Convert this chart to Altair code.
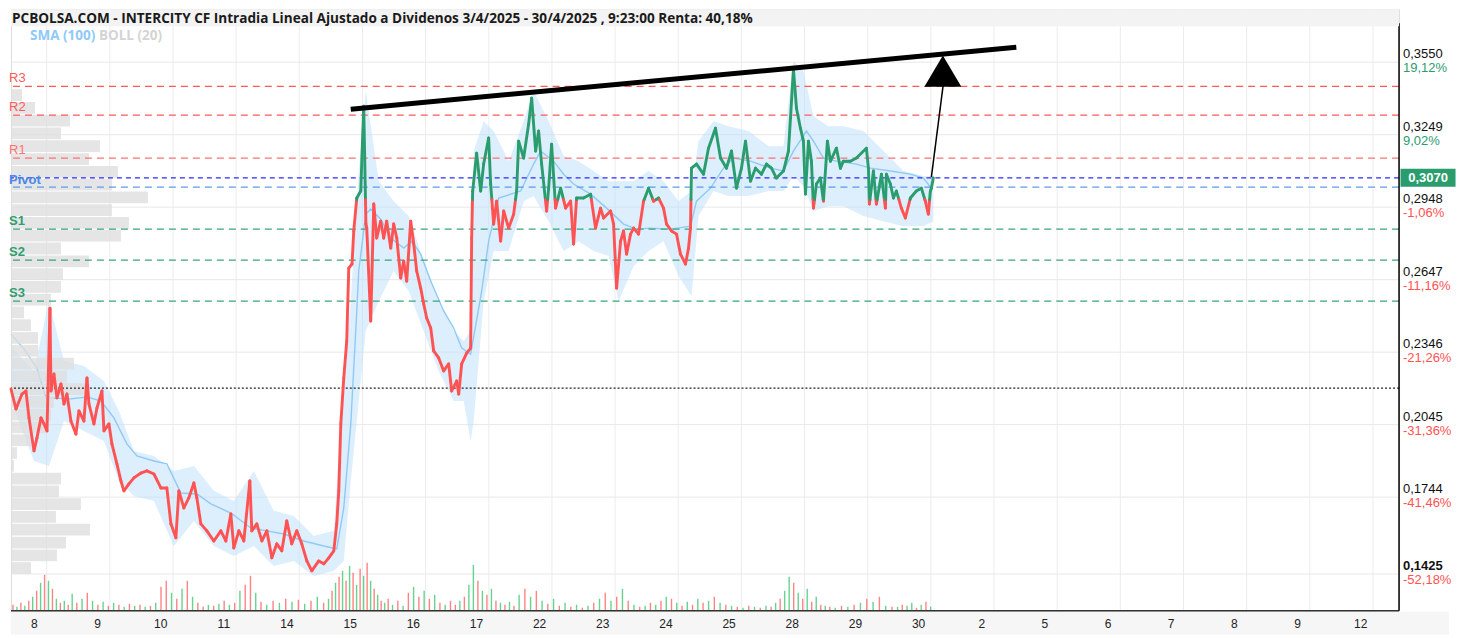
import altair as alt
import pandas as pd

TITLE = ("PCBOLSA.COM - INTERCITY CF Intradia Lineal Ajustado a Dividenos "
         "3/4/2025 - 30/4/2025 , 9:23:00 Renta: 40,18%")
day_labels = ["8", "9", "10", "11", "14", "15", "16", "17", "22", "23", "24",
              "25", "28", "29", "30", "2", "5", "6", "7", "8", "9", "12"]

# intraday price (x in trading-day units from the first session)
price_t = [
    0.000, 0.079, 0.174, 0.237, 0.285, 0.364, 0.411, 0.475, 0.522, 0.570,
    0.617, 0.633, 0.680, 0.728, 0.791, 0.839, 0.886, 0.949, 1.028, 1.076,
    1.155, 1.203, 1.234, 1.313, 1.361, 1.440, 1.472, 1.551, 1.598, 1.677,
    1.741, 1.788, 1.867, 1.946, 2.057, 2.152, 2.263, 2.373, 2.468, 2.532,
    2.611, 2.658, 2.737, 2.816, 2.896, 2.943, 3.006, 3.101, 3.212, 3.323,
    3.402, 3.481, 3.528, 3.608, 3.687, 3.782, 3.813, 3.892, 3.972, 4.051,
    4.130, 4.209, 4.288, 4.367, 4.446, 4.525, 4.604, 4.684, 4.763, 4.873,
    4.953, 5.032, 5.111, 5.158, 5.190, 5.222, 5.269, 5.316, 5.348, 5.400,
    5.427, 5.475, 5.538, 5.585, 5.620, 5.633, 5.696, 5.744, 5.791, 5.854,
    5.902, 5.949, 6.013, 6.060, 6.108, 6.171, 6.218, 6.266, 6.329, 6.377,
    6.424, 6.487, 6.535, 6.582, 6.646, 6.693, 6.772, 6.851, 6.930, 6.978,
    7.057, 7.089, 7.136, 7.215, 7.278, 7.294, 7.310, 7.373, 7.437, 7.484,
    7.563, 7.595, 7.642, 7.690, 7.753, 7.801, 7.880, 7.959, 8.006, 8.038,
    8.117, 8.196, 8.244, 8.307, 8.354, 8.402, 8.481, 8.513, 8.560, 8.623,
    8.703, 8.782, 8.861, 8.908, 8.956, 9.066, 9.177, 9.256, 9.335, 9.383,
    9.494, 9.541, 9.589, 9.652, 9.699, 9.747, 9.810, 9.858, 9.937, 10.016,
    10.095, 10.174, 10.253, 10.332, 10.380, 10.459, 10.538, 10.601, 10.680, 10.728,
    10.759, 10.775, 10.854, 10.965, 11.044, 11.155, 11.234, 11.329, 11.408, 11.487,
    11.566, 11.630, 11.709, 11.788, 11.883, 11.962, 12.041, 12.120, 12.231, 12.310,
    12.342, 12.389, 12.437, 12.500, 12.547, 12.579, 12.627, 12.674, 12.706, 12.753,
    12.816, 12.864, 12.927, 12.975, 13.070, 13.133, 13.180, 13.291, 13.386, 13.544,
    13.576, 13.592, 13.655, 13.703, 13.782, 13.845, 13.861, 13.924, 13.972, 14.019,
    14.098, 14.161, 14.241, 14.335, 14.415, 14.478, 14.525, 14.557, 14.573, 14.604]
price_v = [
    0.2193, 0.2110, 0.2172, 0.2185, 0.2073, 0.1936, 0.1990, 0.2073, 0.2048, 0.2019,
    0.2529, 0.2185, 0.2255, 0.2156, 0.2214, 0.2131, 0.2172, 0.2060, 0.2006, 0.2102,
    0.2060, 0.2239, 0.2131, 0.2048, 0.2114, 0.2185, 0.2019, 0.2048, 0.1965, 0.1882,
    0.1811, 0.1770, 0.1799, 0.1824, 0.1844, 0.1853, 0.1840, 0.1782, 0.1782, 0.1633,
    0.1575, 0.1770, 0.1699, 0.1741, 0.1803, 0.1741, 0.1633, 0.1604, 0.1562, 0.1604,
    0.1562, 0.1674, 0.1533, 0.1604, 0.1562, 0.1811, 0.1604, 0.1633, 0.1562, 0.1604,
    0.1492, 0.1550, 0.1521, 0.1645, 0.1550, 0.1604, 0.1550, 0.1479, 0.1438, 0.1479,
    0.1467, 0.1492, 0.1521, 0.1633, 0.1770, 0.2048, 0.2239, 0.2392, 0.2695, 0.2712,
    0.2849, 0.2986, 0.3015, 0.3367, 0.2878, 0.2861, 0.2475, 0.2961, 0.2820, 0.2890,
    0.2820, 0.2890, 0.2778, 0.2878, 0.2820, 0.2654, 0.2724, 0.2641, 0.2890, 0.2795,
    0.2683, 0.2612, 0.2546, 0.2488, 0.2446, 0.2351, 0.2322, 0.2268, 0.2297, 0.2185,
    0.2226, 0.2172, 0.2297, 0.2342, 0.2363, 0.2820, 0.3015, 0.3172, 0.3015, 0.3127,
    0.3235, 0.3044, 0.2878, 0.2973, 0.2807, 0.2932, 0.2861, 0.2919, 0.3015, 0.3222,
    0.3152, 0.3293, 0.3401, 0.3181, 0.3264, 0.3127, 0.2932, 0.3027, 0.3210, 0.2944,
    0.3027, 0.2944, 0.2973, 0.2795, 0.2986, 0.2986, 0.3002, 0.2861, 0.2944, 0.2903,
    0.2932, 0.2878, 0.2612, 0.2807, 0.2849, 0.2753, 0.2836, 0.2861, 0.2836, 0.2973,
    0.3027, 0.2973, 0.2986, 0.2944, 0.2878, 0.2849, 0.2836, 0.2753, 0.2712, 0.2778,
    0.2861, 0.3110, 0.3127, 0.3085, 0.3193, 0.3276, 0.3152, 0.3110, 0.3181, 0.3027,
    0.3110, 0.3222, 0.3056, 0.3110, 0.3085, 0.3127, 0.3110, 0.3069, 0.3098, 0.3181,
    0.3318, 0.3521, 0.3359, 0.3276, 0.3222, 0.3002, 0.3222, 0.3139, 0.2944, 0.3044,
    0.3069, 0.2973, 0.3222, 0.3139, 0.3193, 0.3110, 0.3139, 0.3139, 0.3152, 0.3193,
    0.3110, 0.2961, 0.3098, 0.2961, 0.3085, 0.2944, 0.3085, 0.3044, 0.2986, 0.3015,
    0.2944, 0.2903, 0.2986, 0.3015, 0.3027, 0.2973, 0.2919, 0.3015, 0.3027, 0.3069]

# SMA (100)
sma_t = [0.000, 0.206, 0.411, 0.554, 0.949, 1.203, 1.424, 1.630, 1.835, 1.994,
         2.263, 2.468, 2.690, 2.943, 3.165, 3.481, 3.797, 4.051, 4.320, 4.636,
         4.953, 5.158, 5.269, 5.380, 5.475, 5.506, 5.617, 5.696, 5.854, 6.013,
         6.218, 6.345, 6.487, 6.646, 6.851, 7.009, 7.136, 7.278, 7.453, 7.563,
         7.722, 8.070, 8.275, 8.386, 8.592, 8.750, 8.908, 9.177, 9.430, 9.699,
         9.905, 10.127, 10.443, 10.759, 10.854, 11.076, 11.282, 11.440, 11.709, 12.025,
         12.231, 12.389, 12.595, 12.706, 12.864, 13.070, 13.386, 13.608, 13.924, 14.241,
         14.446, 14.573]
sma_v = [0.2421, 0.2359, 0.2280, 0.2156, 0.2152, 0.2160, 0.2143, 0.2073, 0.1965, 0.1915,
         0.1894, 0.1882, 0.1761, 0.1757, 0.1716, 0.1678, 0.1616, 0.1604, 0.1591, 0.1562,
         0.1541, 0.1529, 0.1699, 0.2048, 0.2517, 0.2683, 0.2919, 0.2940, 0.2898, 0.2820,
         0.2778, 0.2807, 0.2753, 0.2641, 0.2517, 0.2446, 0.2363, 0.2338, 0.2600, 0.2807,
         0.2986, 0.3015, 0.3127, 0.3181, 0.3139, 0.3085, 0.3044, 0.3002, 0.2944, 0.2878,
         0.2857, 0.2861, 0.2857, 0.2869, 0.2973, 0.3027, 0.3110, 0.3152, 0.3139, 0.3110,
         0.3098, 0.3181, 0.3264, 0.3222, 0.3152, 0.3139, 0.3127, 0.3110, 0.3098, 0.3085,
         0.3069, 0.3027]

# BOLL (20) band
boll_t = [0.000, 0.364, 0.601, 0.839, 1.155, 1.472, 1.709, 1.946, 2.263, 2.579,
          2.896, 3.212, 3.528, 3.845, 4.161, 4.478, 4.794, 5.111, 5.269, 5.380,
          5.506, 5.617, 5.823, 6.060, 6.297, 6.535, 6.772, 7.009, 7.168, 7.278,
          7.326, 7.484, 7.642, 7.880, 8.117, 8.275, 8.513, 8.750, 8.987, 9.225,
          9.462, 9.620, 9.858, 10.095, 10.332, 10.570, 10.775, 10.886, 11.123, 11.361,
          11.677, 11.994, 12.231, 12.389, 12.547, 12.706, 12.943, 13.180, 13.497, 13.813,
          14.130, 14.446, 14.604]
boll_up = [0.2371, 0.2268, 0.2558, 0.2309, 0.2288, 0.2226, 0.2102, 0.1936, 0.1915, 0.1853,
           0.1873, 0.1770, 0.1728, 0.1853, 0.1687, 0.1666, 0.1583, 0.1604, 0.2226, 0.2558,
           0.3098, 0.3430, 0.3056, 0.2973, 0.2911, 0.2724, 0.2558, 0.2434, 0.2392, 0.2434,
           0.3181, 0.3305, 0.3264, 0.3139, 0.3305, 0.3430, 0.3305, 0.3160, 0.3139, 0.3098,
           0.3056, 0.3056, 0.3056, 0.3098, 0.3056, 0.2973, 0.3015, 0.3222, 0.3305, 0.3284,
           0.3264, 0.3201, 0.3201, 0.3554, 0.3513, 0.3326, 0.3284, 0.3284, 0.3264, 0.3181,
           0.3098, 0.3077, 0.3077]
boll_low = [0.2143, 0.1894, 0.1873, 0.2060, 0.2019, 0.1977, 0.1811, 0.1749, 0.1728, 0.1541,
            0.1645, 0.1541, 0.1500, 0.1541, 0.1458, 0.1479, 0.1417, 0.1438, 0.1479, 0.1811,
            0.2143, 0.2434, 0.2558, 0.2683, 0.2600, 0.2434, 0.2268, 0.2143, 0.2143, 0.1977,
            0.2060, 0.2558, 0.2766, 0.2766, 0.2973, 0.2994, 0.2890, 0.2766, 0.2807, 0.2766,
            0.2745, 0.2558, 0.2703, 0.2766, 0.2807, 0.2662, 0.2579, 0.2911, 0.3015, 0.2994,
            0.2994, 0.3015, 0.3015, 0.3077, 0.3035, 0.2932, 0.2952, 0.2952, 0.2911, 0.2890,
            0.2869, 0.2869, 0.2890]

# volume per session (evenly spread trades), g = up, r = down
vol_days = [
    [6, 4, 8, 5, 10, 14, 20, 28, 36, 30, 22, 12, 8, 10, 6, 17],
    [8, 12, 18, 10, 6, 9, 5, 8, 6, 4, 7, 5],
    [6, 4, 5, 8, 24, 30, 18, 12, 22, 30, 14, 8],
    [4, 6, 5, 7, 10, 6, 8, 20, 26, 35, 18, 9],
    [6, 10, 8, 12, 9, 11, 7, 10, 14, 8],
    [12, 20, 28, 34, 40, 30, 45, 38, 26, 42, 35, 48, 30, 22, 16, 10, 8, 12],
    [6, 10, 5, 18, 24, 14, 20, 12, 16, 8, 6, 10],
    [6, 10, 14, 26, 46, 30, 20, 16, 22, 10, 8, 6, 9, 5],
    [16, 22, 14, 20, 10, 7, 12, 5, 8, 4, 6],
    [3, 5, 8, 12, 18, 10, 14, 22, 10, 6, 4],
    [5, 8, 6, 10, 14, 12, 8, 5, 9, 6, 12, 8],
    [10, 14, 8, 6, 5, 4, 3, 5, 4, 3, 5],
    [4, 8, 12, 20, 34, 28, 18, 12, 22, 9, 14, 6, 5, 4],
    [3, 5, 4, 6, 8, 12, 9, 14, 5, 4],
    [4, 6, 5, 8, 3, 6, 9, 4],
]
vol_dirs = ["rgrgrgrgrgrgrgrg", "rgrgrgrgrgrg", "rgrgrrgrgrgr", "rgrgrgrgrrgr",
            "grgrgrgrgr", "grgrgrgrgrgrgrgrgr", "grgrgrgrgrgr", "rgrggrgrgrgrgr",
            "grgrgrgrgrg", "rgrgrgrgrgr", "grgrgrgrgrgr", "grgrgrgrgrg",
            "rgrggrgrgrgrgr", "grgrgrgrgr", "grggrgrg"]
vol_span = [1.0] * 14 + [0.6]

# volume profile (bottom bin first)
profile_vol = [20, 46, 55, 79, 45, 70, 48, 50, 3, 6, 20, 36, 40, 43, 75, 56, 63, 27, 27,
               20, 13, 40, 50, 52, 78, 50, 110, 118, 101, 137, 101, 107, 78, 89, 50, 59,
               24, 11]
PROF_BASE, PROF_STEP = 0.1425, 0.005308

y_ticks = [0.1425, 0.1744, 0.2045, 0.2346, 0.2647, 0.2948, 0.3249, 0.3550]
y_pct = ["-52,18%", "-41,46%", "-31,36%", "-21,26%", "-11,16%", "-1,06%", "9,02%", "19,12%"]

r_names, r_vals = ["R3", "R2", "R1"], [0.3450, 0.3330, 0.3152]
s_names, s_vals = ["S1", "S2", "S3"], [0.2857, 0.2728, 0.2558]
pivot_val = 0.3031
last_price = 0.3070
ref_price = 0.2980
dotted_level = 0.2197

trend_t, trend_p = [5.380, 15.918], [0.3355, 0.3612]
arrow_t, arrow_p = [14.573, 14.778], [0.3073, 0.3492]
head_t, head_p = 14.755, 0.3513

# ------------------------------------------------------------------
W, H = 1389, 602
X_MAX = 21.978
Y_MIN, Y_MAX = 0.1272, 0.3770
GREEN, RED = "#2a9d6e", "#ff5252"
VGREEN, VRED = "#33c46c", "#ff5a5a"
VOL_K = 0.000415          # price units per volume unit (bottom panel)
PROF_K = 1 / 63.2         # day units per profile volume unit
FONT = "Liberation Sans"

xs = alt.Scale(domain=[0, X_MAX], nice=False, zero=False)
ys = alt.Scale(domain=[Y_MIN, Y_MAX], nice=False, zero=False)


def xq(f):
    return alt.X(f, type="quantitative", scale=xs, axis=None)


def yq(f):
    return alt.Y(f, type="quantitative", scale=ys, axis=None)


one = pd.DataFrame({"a": [0]})

# price segments coloured by reference level
rows = []
for i in range(len(price_t) - 1):
    t0, p0, t1, p1 = price_t[i], price_v[i], price_t[i + 1], price_v[i + 1]
    a0, a1 = p0 >= ref_price, p1 >= ref_price
    if a0 == a1:
        rows.append((t0, p0, t1, p1, GREEN if a0 else RED))
    else:
        f = (ref_price - p0) / (p1 - p0)
        tc = t0 + f * (t1 - t0)
        rows.append((t0, p0, tc, ref_price, GREEN if a0 else RED))
        rows.append((tc, ref_price, t1, p1, GREEN if a1 else RED))
seg = pd.DataFrame(rows, columns=["t0", "p0", "t1", "p1", "c"])

vrows = []
for d, (hs, dirs) in enumerate(zip(vol_days, vol_dirs)):
    n = len(hs)
    for j, (h, c) in enumerate(zip(hs, dirs)):
        vrows.append((d + (j + 0.5) / n * vol_span[d], h, VGREEN if c == "g" else VRED))
vol = pd.DataFrame(vrows, columns=["t", "v", "c"])
vol["y0"] = Y_MIN
vol["y1"] = Y_MIN + vol["v"] * VOL_K

prof = pd.DataFrame({"vol": profile_vol})
prof["lo"] = PROF_BASE + prof.index * PROF_STEP
prof["hi"] = prof["lo"] + PROF_STEP * 0.92
prof["x0"] = 0.0
prof["x1"] = prof["vol"] * PROF_K

band = pd.DataFrame({"t": boll_t, "up": boll_up, "low": boll_low})
sma = pd.DataFrame({"t": sma_t, "v": sma_v})

layers = []

# bottom grey strip behind the date labels
layers.append(alt.Chart(one).mark_rect(color="#f6f6f6").encode(
    x=alt.value(0), x2=alt.value(W + 50), y=alt.value(H + 1), y2=alt.value(H + 24)))

# grids
vgrid = pd.DataFrame({"t": [i + 0.565 for i in range(len(day_labels))]})
layers.append(alt.Chart(vgrid).mark_rule(color="#ececec", strokeWidth=1).encode(x=xq("t")))
hgrid = pd.DataFrame({"p": y_ticks})
layers.append(alt.Chart(hgrid).mark_rule(color="#e8e8e8", strokeWidth=1).encode(y=yq("p")))

# Bollinger band and SMA
layers.append(alt.Chart(band).mark_area(color="#bbdefb", opacity=0.5).encode(
    x=xq("t"), y=yq("low"), y2="up"))
layers.append(alt.Chart(sma).mark_line(color="#8fcaf5", strokeWidth=1.4).encode(
    x=xq("t"), y=yq("v")))

# volume profile
layers.append(alt.Chart(prof).mark_rect(color="#dedede", opacity=0.8).encode(
    x=xq("x0"), x2="x1", y=yq("lo"), y2="hi"))

# volume bars
layers.append(alt.Chart(vol).mark_rule(strokeWidth=1.4, opacity=0.75).encode(
    x=xq("t"), y=yq("y0"), y2="y1", color=alt.Color("c:N", scale=None)))

# pivot levels
rdf = pd.DataFrame({"n": r_names, "p": r_vals, "c": ["#ff5a5a", "#ff5a5a", "#ff7272"]})
sdf = pd.DataFrame({"n": s_names, "p": s_vals})
pdf = pd.DataFrame({"n": ["Pivot"], "p": [pivot_val]})
layers.append(alt.Chart(rdf).mark_rule(strokeDash=[7, 5], strokeWidth=1.2).encode(
    y=yq("p"), color=alt.Color("c:N", scale=None)))
layers.append(alt.Chart(sdf).mark_rule(strokeDash=[7, 5], strokeWidth=1.2, color="#3aa57a").encode(
    y=yq("p")))
layers.append(alt.Chart(pdf).mark_rule(strokeDash=[7, 5], strokeWidth=1.2, color="#5b9bf0").encode(
    y=yq("p")))
layers.append(alt.Chart(pd.DataFrame({"p": [last_price]})).mark_rule(
    strokeDash=[5, 4], strokeWidth=1.3, color="#2b2bff").encode(y=yq("p")))
layers.append(alt.Chart(pd.DataFrame({"p": [dotted_level]})).mark_rule(
    strokeDash=[2, 2], strokeWidth=1.2, color="#222").encode(y=yq("p")))

# price line
layers.append(alt.Chart(seg).mark_rule(strokeWidth=2.9, strokeCap="round").encode(
    x=xq("t0"), x2="t1", y=yq("p0"), y2="p1", color=alt.Color("c:N", scale=None)))

# trend line and arrow
layers.append(alt.Chart(pd.DataFrame({"t0": [trend_t[0]], "t1": [trend_t[1]],
                                      "p0": [trend_p[0]], "p1": [trend_p[1]]}))
              .mark_rule(strokeWidth=5, color="black").encode(
    x=xq("t0"), x2="t1", y=yq("p0"), y2="p1"))
layers.append(alt.Chart(pd.DataFrame({"t0": [arrow_t[0]], "t1": [arrow_t[1]],
                                      "p0": [arrow_p[0]], "p1": [arrow_p[1]]}))
              .mark_rule(strokeWidth=1.5, color="black").encode(
    x=xq("t0"), x2="t1", y=yq("p0"), y2="p1"))
layers.append(alt.Chart(pd.DataFrame({"t": [head_t], "p": [head_p]})).mark_point(
    shape="M0,-0.84L1,0.84L-1,0.84Z", filled=True, color="black", opacity=1, size=1369).encode(
    x=xq("t"), y=yq("p")))

# pivot labels
layers.append(alt.Chart(rdf).mark_text(align="left", baseline="bottom", dx=-2, dy=-1,
                                       fontSize=13, font=FONT).encode(
    x=alt.value(0), y=yq("p"), text="n:N", color=alt.Color("c:N", scale=None)))
layers.append(alt.Chart(sdf).mark_text(align="left", baseline="bottom", dx=-2, dy=-1,
                                       fontSize=13, fontWeight="bold", color="#2f9e70",
                                       font=FONT).encode(
    x=alt.value(0), y=yq("p"), text="n:N"))
layers.append(alt.Chart(pdf).mark_text(align="left", baseline="bottom", dx=-2, dy=0,
                                       fontSize=13, fontWeight="bold", color="#4a86e8",
                                       font=FONT).encode(
    x=alt.value(0), y=yq("p"), text="n:N"))

# axis frame lines
layers.append(alt.Chart(one).mark_rule(color="#333", strokeWidth=1.5).encode(
    x=alt.value(0), x2=alt.value(W), y=alt.value(H)))
layers.append(alt.Chart(one).mark_rule(color="#000", strokeWidth=1.5).encode(
    x=alt.value(W), y=alt.value(14), y2=alt.value(H)))

# date labels
xl = pd.DataFrame({"t": [i + 0.37 for i in range(len(day_labels))], "s": day_labels})
layers.append(alt.Chart(xl).mark_text(align="center", baseline="middle", fontSize=12,
                                      color="#222", font=FONT).encode(
    x=xq("t"), y=alt.value(H + 13), text="s:N"))

# right axis: price + percent labels
yl = pd.DataFrame({"p": y_ticks,
                   "s": [("%.4f" % v).replace(".", ",") for v in y_ticks],
                   "pc": y_pct,
                   "c": [GREEN if not s.startswith("-") else RED for s in y_pct]})
yl_norm = yl[yl["p"] > 0.15]
yl_bold = yl[yl["p"] <= 0.15]
layers.append(alt.Chart(yl_norm).mark_text(align="left", baseline="bottom", dy=-1, fontSize=13,
                                           color="#111", font=FONT).encode(
    x=alt.value(W + 4), y=yq("p"), text="s:N"))
layers.append(alt.Chart(yl_bold).mark_text(align="left", baseline="bottom", dy=-1, fontSize=13,
                                           fontWeight="bold", color="#111", font=FONT).encode(
    x=alt.value(W + 4), y=yq("p"), text="s:N"))
layers.append(alt.Chart(yl).mark_text(align="left", baseline="top", dy=0, fontSize=13,
                                      font=FONT).encode(
    x=alt.value(W + 4), y=yq("p"), text="pc:N", color=alt.Color("c:N", scale=None)))

# last price box
lp = pd.DataFrame({"p": [last_price], "s": ["0,3070"]})
layers.append(alt.Chart(lp).mark_point(shape="M-1.53,-0.5L1.53,-0.5L1.53,0.5L-1.53,0.5Z",
                                       filled=True, color=GREEN, opacity=1, size=1296).encode(
    x=alt.value(W + 29), y=yq("p")))
layers.append(alt.Chart(lp).mark_text(align="center", baseline="middle", fontSize=13,
                                      fontWeight="bold", color="white", font=FONT).encode(
    x=alt.value(W + 29), y=yq("p"), text="s:N"))

# title band and legend
layers.append(alt.Chart(one).mark_rect(color="#f3f3f3").encode(
    x=alt.value(0), x2=alt.value(W), y=alt.value(0), y2=alt.value(17)))
layers.append(alt.Chart(pd.DataFrame({"s": [TITLE]})).mark_text(
    align="left", baseline="middle", fontSize=13.6, fontWeight="bold", font="Open Sans",
    color="#1a1a1a").encode(x=alt.value(1), y=alt.value(9.5), text="s:N"))
layers.append(alt.Chart(pd.DataFrame({"s": ["SMA (100)"]})).mark_text(
    align="left", baseline="middle", fontSize=13.5, fontWeight="bold", font="Open Sans",
    color="#90caf9").encode(x=alt.value(19), y=alt.value(27), text="s:N"))
layers.append(alt.Chart(pd.DataFrame({"s": ["BOLL (20)"]})).mark_text(
    align="left", baseline="middle", fontSize=13.5, fontWeight="bold", font="Open Sans",
    color="#d4d4d4").encode(x=alt.value(88), y=alt.value(27), text="s:N"))

chart = (alt.layer(*layers)
         .properties(width=W, height=H, padding=0)
         .configure_view(stroke=None)
         .configure(background="white"))

chart.save("out.html", embed_options={"renderer": "svg", "actions": False})
